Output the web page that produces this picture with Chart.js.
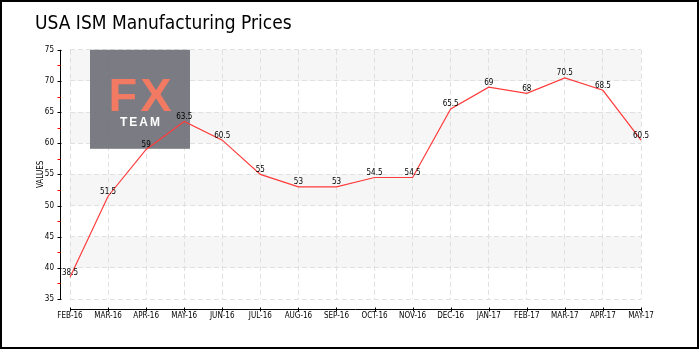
<!DOCTYPE html>
<html>
<head>
<meta charset="utf-8">
<script src="https://cdn.jsdelivr.net/npm/chart.js@4.4.1/dist/chart.umd.min.js"></script>
<style>
  body { margin: 0; background: #fff; }
  #wrap { width: 700px; height: 350px; }
</style>
</head>
<body>
<div id="wrap"><canvas id="myChart" width="700" height="350"></canvas></div>
<script>
// data
let months = ["FEB-16", "MAR-16", "APR-16", "MAY-16", "JUN-16", "JUL-16", "AUG-16", "SEP-16",
  "OCT-16", "NOV-16", "DEC-16", "JAN-17", "FEB-17", "MAR-17", "APR-17", "MAY-17"];
let prices = [38.5, 51.5, 59, 63.5, 60.5, 55, 53, 53, 54.5, 54.5, 65.5, 69, 68, 70.5, 68.5, 60.5];
let yMin = 35;
let yMax = 75;
let yStep = 5;
// shaded horizontal bands (from, to)
let bandFrom = [40, 50, 60, 70];
let bandTo = [45, 55, 65, 75];

const smallFont = "'DejaVu Sans Condensed', 'DejaVu Sans', sans-serif";

// background bands + white fill
const bandsPlugin = {
  id: "bands",
  beforeDraw(chart) {
    const { ctx, chartArea: a, scales: { y } } = chart;
    ctx.save();
    ctx.fillStyle = "#fff";
    ctx.fillRect(0, 0, chart.width, chart.height);
    ctx.fillStyle = "#f6f6f6";
    bandFrom.forEach((from, i) => {
      const top = y.getPixelForValue(bandTo[i]);
      const bot = y.getPixelForValue(from);
      ctx.fillRect(a.left, top, a.right - a.left, bot - top);
    });
    ctx.restore();
  }
};

// FX TEAM watermark, under the line
const logoPlugin = {
  id: "logo",
  beforeDatasetsDraw(chart) {
    const { ctx, chartArea: a } = chart;
    const lx = a.left + 20, ly = a.top, w = 100, h = 99;
    ctx.save();
    ctx.fillStyle = "rgba(112,112,120,0.92)";
    ctx.fillRect(lx, ly, w, h);
    ctx.textAlign = "center";
    ctx.textBaseline = "alphabetic";
    ctx.fillStyle = "#f27a62";
    ctx.font = "bold 47px 'Liberation Sans', Arial, sans-serif";
    ctx.letterSpacing = "3px";
    ctx.fillText("FX", lx + w / 2 + 1.5, ly + 61);
    ctx.fillStyle = "#fff";
    ctx.font = "bold 12px 'Liberation Sans', Arial, sans-serif";
    ctx.letterSpacing = "2px";
    ctx.fillText("TEAM", lx + w / 2 + 1, ly + 76);
    ctx.restore();
  }
};

// value labels, axis lines, ticks, frame
const axesPlugin = {
  id: "axesAndLabels",
  afterDatasetsDraw(chart) {
    const { ctx, chartArea: a, scales: { x, y } } = chart;
    const meta = chart.getDatasetMeta(0);
    ctx.save();
    // value labels
    ctx.fillStyle = "#000";
    ctx.font = "8px " + smallFont;
    ctx.textAlign = "center";
    ctx.textBaseline = "alphabetic";
    meta.data.forEach((pt, i) => {
      ctx.fillText(String(prices[i]), pt.x, pt.y - 2.5);
    });

    ctx.lineWidth = 1;
    // y axis
    const ax = a.left - 9.5;
    ctx.strokeStyle = "#000";
    ctx.beginPath();
    ctx.moveTo(ax, y.getPixelForValue(yMax));
    ctx.lineTo(ax, y.getPixelForValue(yMin) + 1);
    for (let v = yMin; v <= yMax; v += yStep) {
      const py = Math.round(y.getPixelForValue(v)) + 0.5;
      ctx.moveTo(ax - 3, py);
      ctx.lineTo(ax + 1, py);
    }
    ctx.stroke();
    // red minor ticks
    ctx.strokeStyle = "#ff0000";
    ctx.beginPath();
    for (let v = yMin + yStep / 2; v < yMax; v += yStep) {
      const py = Math.round(y.getPixelForValue(v)) + 0.5;
      ctx.moveTo(ax - 3, py);
      ctx.lineTo(ax, py);
    }
    ctx.stroke();
    // x axis
    const ay = a.bottom + 10.5;
    ctx.strokeStyle = "#000";
    ctx.beginPath();
    ctx.moveTo(x.getPixelForValue(0), ay);
    ctx.lineTo(x.getPixelForValue(months.length - 1), ay);
    months.forEach((m, i) => {
      const px = Math.round(x.getPixelForValue(i)) + 0.5;
      ctx.moveTo(px, ay - 2);
      ctx.lineTo(px, ay + 2);
    });
    ctx.stroke();
    // frame
    ctx.lineWidth = 2;
    ctx.strokeRect(1, 1, 697, 347);
    ctx.restore();
  }
};

var ctx = document.getElementById("myChart").getContext("2d");
let chart = new Chart(ctx, {
  type: "line",
  data: {
    labels: months,
    datasets: [
      {
        label: "USA ISM Manufacturing Prices",
        data: prices,
        borderColor: "#ff3b3b",
        borderWidth: 1.2,
        pointRadius: 0,
        tension: 0,
        fill: false
      }
    ]
  },
  options: {
    responsive: false,
    animation: false,
    layout: { padding: { left: 35, right: 59, top: 0, bottom: 0 } },
    plugins: {
      legend: { display: false },
      tooltip: { enabled: false },
      title: {
        display: true,
        text: "USA ISM Manufacturing Prices",
        align: "start",
        color: "#000",
        font: { family: "'Liberation Sans Narrow', 'DejaVu Sans Condensed', sans-serif", size: 19, weight: "normal" },
        padding: { top: 13, bottom: 14 }
      }
    },
    scales: {
      x: {
        offset: false,
        grid: { color: "#e0e0e0", drawTicks: false, offset: false },
        border: { display: false, dash: [5, 3] },
        ticks: { color: "#000", padding: 12, maxRotation: 0, autoSkip: false, font: { family: smallFont, size: 8 } },
        afterFit(scale) { scale.height = 51; }
      },
      y: {
        min: yMin,
        max: yMax,
        grid: { color: "#e0e0e0", drawTicks: false },
        border: { display: false, dash: [5, 3] },
        ticks: { stepSize: yStep, color: "#000", padding: 16, font: { family: smallFont, size: 8 } },
        title: { display: true, text: "VALUES", color: "#000", font: { family: smallFont, size: 8 }, padding: { top: 1, bottom: 0 } },
        afterFit(scale) { scale.width = 35; }
      }
    }
  },
  plugins: [bandsPlugin, logoPlugin, axesPlugin]
});
</script>
</body>
</html>
